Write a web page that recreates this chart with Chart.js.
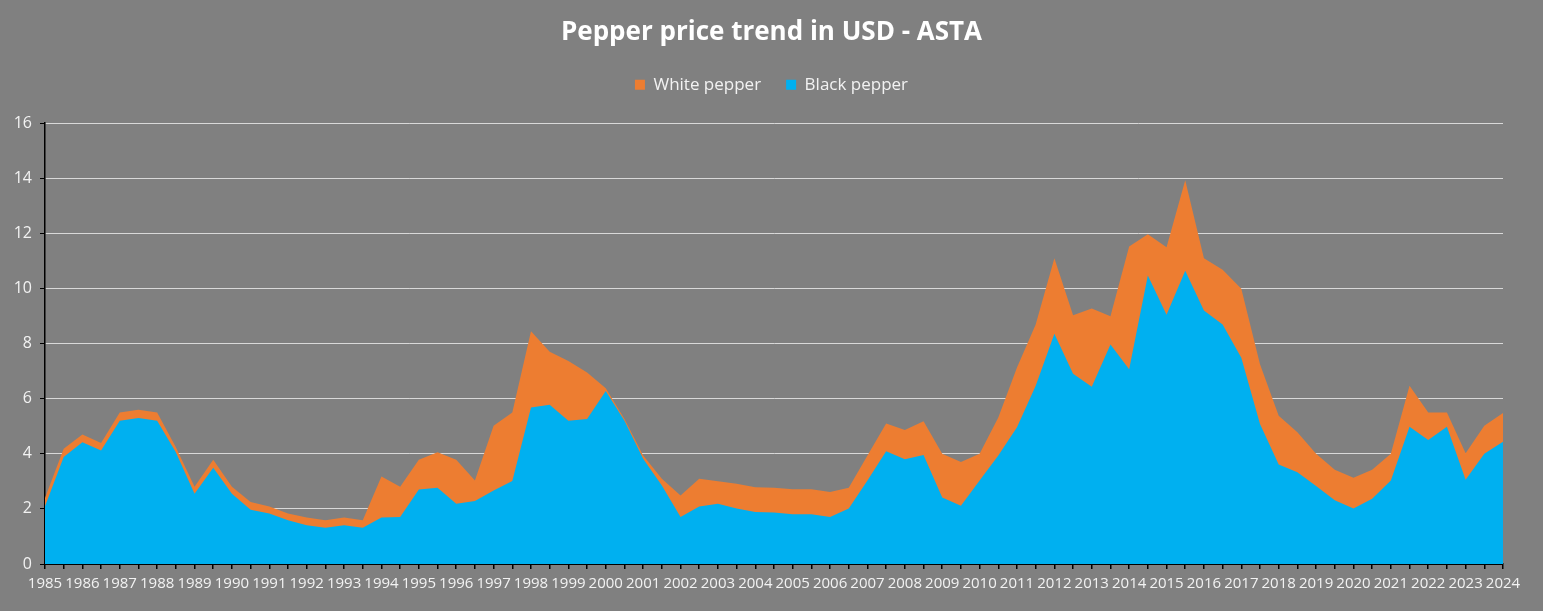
<!DOCTYPE html>
<html>
<head>
<meta charset="utf-8">
<title>Pepper price trend in USD - ASTA</title>
<script src="https://cdn.jsdelivr.net/npm/chart.js@4/dist/chart.umd.min.js"></script>
<style>
  html, body { margin: 0; padding: 0; background: #808080; }
  #wrap { width: 1543px; height: 611px; }
</style>
</head>
<body>
<div id="wrap"><canvas id="chartCanvas" width="1543" height="611"></canvas></div>
<script>
// Years shown on the axis; two readings per year (the in-between points have no label)
const years = [1985, 1986, 1987, 1988, 1989, 1990, 1991, 1992, 1993, 1994,
  1995, 1996, 1997, 1998, 1999, 2000, 2001, 2002, 2003, 2004,
  2005, 2006, 2007, 2008, 2009, 2010, 2011, 2012, 2013, 2014,
  2015, 2016, 2017, 2018, 2019, 2020, 2021, 2022, 2023, 2024];

// USD per kg
const whitePepper = [
  2.4, 4.18, 4.7, 4.39, 5.5, 5.6, 5.5, 4.24, 2.8, 3.78,
  2.8, 2.25, 2.09, 1.83, 1.69, 1.59, 1.69, 1.59, 3.18, 2.8,
  3.78, 4.06, 3.78, 3.03, 5.02, 5.5, 8.45, 7.7, 7.37, 6.95,
  6.38, 5.26, 3.94, 3.09, 2.49, 3.09, 3.0, 2.91, 2.79, 2.77,
  2.71, 2.71, 2.61, 2.77, 3.94, 5.1, 4.86, 5.18, 4.0, 3.7,
  4.0, 5.32, 7.13, 8.69, 11.1, 9.03, 9.27, 8.99, 11.52, 11.97,
  11.5, 13.93, 11.1, 10.68, 9.99, 7.25, 5.38, 4.78, 4.0, 3.42,
  3.13, 3.42, 4.0, 6.47, 5.5, 5.5, 4.02, 5.02, 5.48
];
const blackPepper = [
  2.1, 3.88, 4.42, 4.12, 5.2, 5.3, 5.2, 4.06, 2.55, 3.49,
  2.55, 1.97, 1.83, 1.59, 1.41, 1.32, 1.41, 1.32, 1.69, 1.71,
  2.7, 2.77, 2.19, 2.29, 2.67, 3.01, 5.68, 5.78, 5.2, 5.26,
  6.28, 5.2, 3.82, 2.85, 1.71, 2.09, 2.19, 2.01, 1.89, 1.87,
  1.81, 1.81, 1.71, 2.01, 3.03, 4.09, 3.8, 3.96, 2.41, 2.11,
  3.03, 3.94, 4.96, 6.47, 8.36, 6.91, 6.43, 7.97, 7.07, 10.47,
  9.05, 10.64, 9.2, 8.69, 7.49, 5.08, 3.61, 3.33, 2.83, 2.31,
  2.01, 2.37, 3.03, 4.98, 4.5, 4.98, 3.06, 4.0, 4.44
];

const yTicks = [0, 2, 4, 6, 8, 10, 12, 14, 16];

const categories = [];
years.forEach((y, i) => {
  categories.push(String(y));
  if (i < years.length - 1) categories.push('');
});

const textColor = '#f2f2f2';
const fontFamily = "'Open Sans', 'Liberation Sans', sans-serif";

// extra room under the legend, like in the spreadsheet
const legendGap = {
  id: 'legendGap',
  beforeInit(chart) {
    const fit = chart.legend.fit;
    chart.legend.fit = function() {
      fit.call(this);
      this.height += 20;
    };
  }
};

const bg = {
  id: 'bg',
  beforeDraw(chart) {
    const ctx = chart.ctx;
    ctx.save();
    ctx.fillStyle = '#808080';
    ctx.fillRect(0, 0, chart.width, chart.height);
    ctx.restore();
  }
};

new Chart(document.getElementById('chartCanvas'), {
  type: 'line',
  data: {
    labels: categories,
    datasets: [
      {
        label: 'Black pepper',
        data: blackPepper,
        backgroundColor: '#00b0f0',
        borderColor: '#00b0f0',
        borderWidth: 0,
        fill: 'origin',
        pointRadius: 0,
        tension: 0
      },
      {
        label: 'White pepper',
        data: whitePepper,
        backgroundColor: '#ed7d31',
        borderColor: '#ed7d31',
        borderWidth: 0,
        fill: 'origin',
        pointRadius: 0,
        tension: 0
      }
    ]
  },
  options: {
    responsive: false,
    animation: false,
    plugins: {
      title: {
        display: true,
        text: 'Pepper price trend in USD - ASTA',
        color: '#ffffff',
        font: { family: fontFamily, size: 26, weight: 'bold' },
        padding: { top: 17, bottom: 3 }
      },
      legend: {
        reverse: true,
        labels: {
          color: textColor,
          font: { family: fontFamily, size: 17 },
          boxWidth: 10,
          boxHeight: 10,
          padding: 25
        }
      },
      tooltip: { enabled: false }
    },
    scales: {
      x: {
        offset: false,
        border: { color: '#000000', width: 2 },
        grid: { drawOnChartArea: false, drawTicks: true, tickLength: 5, tickColor: '#000000', lineWidth: 1.5 },
        ticks: {
          autoSkip: false,
          maxRotation: 0,
          minRotation: 0,
          padding: 6,
          color: textColor,
          font: { family: fontFamily, size: 15 },
          callback: (v, i) => categories[i]
        },
        afterFit(scale) { scale.height = 47; }
      },
      y: {
        min: 0,
        max: 16,
        border: { color: '#000000', width: 1.5 },
        grid: { color: '#d9d9d9', lineWidth: 1, drawTicks: true, tickLength: 5, tickColor: '#000000' },
        afterBuildTicks(scale) { scale.ticks = yTicks.map(v => ({ value: v })); },
        ticks: {
          padding: 8,
          color: textColor,
          font: { family: fontFamily, size: 16 }
        },
        afterFit(scale) { scale.width = 45; }
      },
      // empty right-hand strip so the plot ends where the reference does
      spacer: {
        position: 'right',
        display: true,
        grid: { display: false },
        border: { display: false },
        ticks: { display: false },
        afterFit(scale) { scale.width = 40; }
      }
    }
  },
  plugins: [bg, legendGap]
});
</script>
</body>
</html>
